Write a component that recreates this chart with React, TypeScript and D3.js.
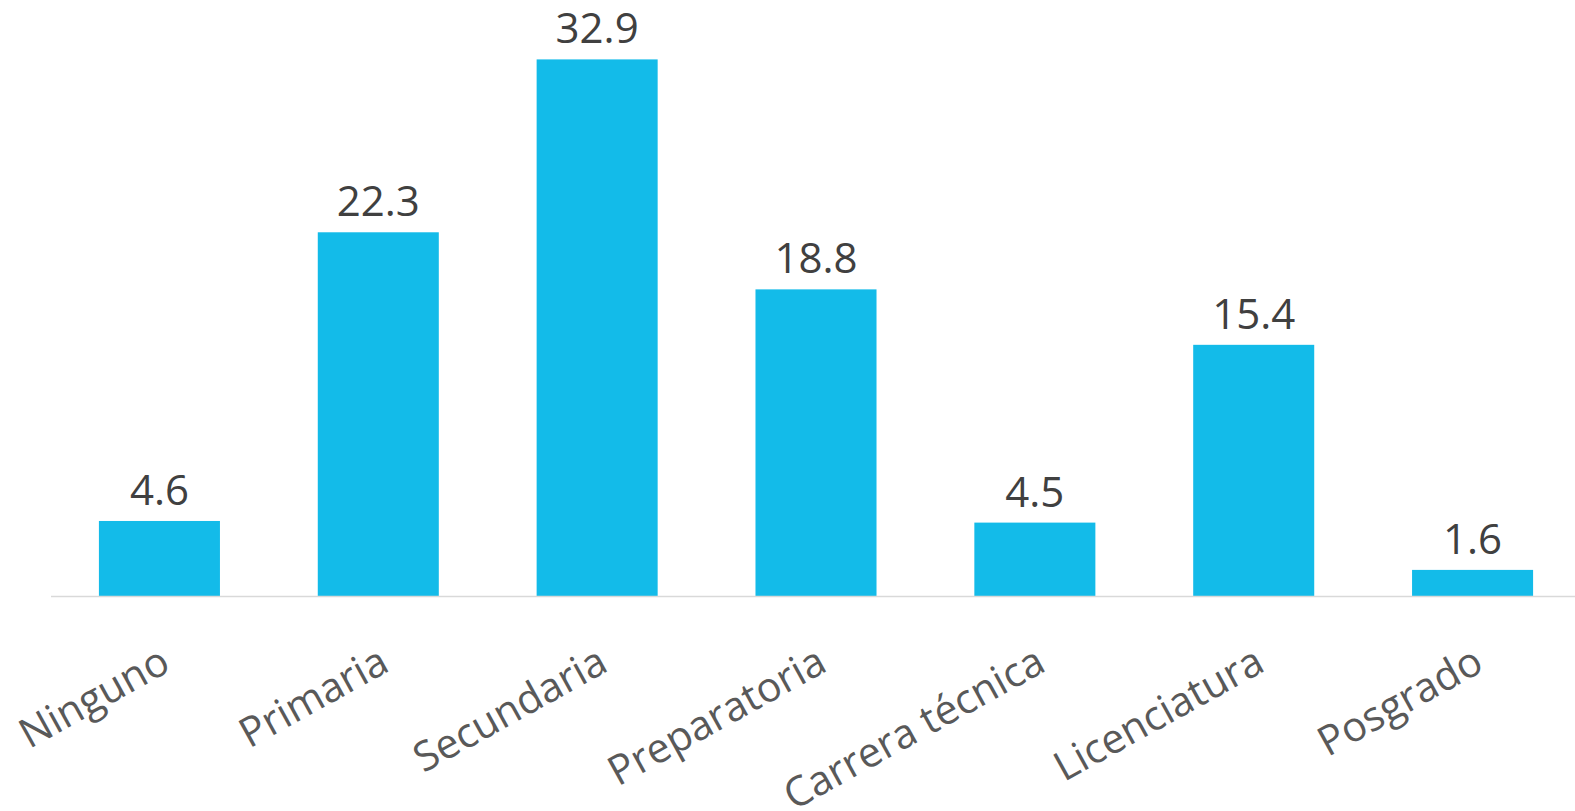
import React from "react";
import * as d3 from "d3";

const categories = ["Ninguno", "Primaria", "Secundaria", "Preparatoria", "Carrera técnica", "Licenciatura", "Posgrado"];
const values = [4.6, 22.3, 32.9, 18.8, 4.5, 15.4, 1.6];

const W = 1575;
const H = 811;
const baseY = 596;

export default function App() {
  const x = d3.scaleBand<string>().domain(categories).range([50, 1582]).paddingInner(0.447).paddingOuter(0.2235);
  const y = d3.scaleLinear().domain([0, 36]).range([baseY, baseY - 36 * 16.31]);
  return (
    <svg width={W} height={H} style={{ position: "absolute", left: 0, top: 0, background: "#fff" }}>
      {categories.map((c, i) => (
        <rect key={c} x={x(c)!} y={y(values[i])} width={x.bandwidth()} height={baseY - y(values[i])} fill="#13BBE9" />
      ))}
      <line x1={51} x2={W} y1={baseY + 0.5} y2={baseY + 0.5} stroke="#d9d9d9" strokeWidth={1.5} />
      {categories.map((c, i) => (
        <text key={"v" + c} x={x(c)! + x.bandwidth() / 2} y={y(values[i]) - 16} textAnchor="middle"
          fontFamily="Open Sans" fontSize={42} fill="#404040">{values[i].toFixed(1)}</text>
      ))}
      {categories.map((c) => {
        const cx = x(c)! + x.bandwidth() / 2 - 2;
        const cy = 643;
        return (
          <text key={"l" + c} transform={`translate(${cx},${cy}) rotate(-29)`} textAnchor="end" dy="0.75em"
            fontFamily="Open Sans" fontSize={41} fill="#595959">{c}</text>
        );
      })}
    </svg>
  );
}
